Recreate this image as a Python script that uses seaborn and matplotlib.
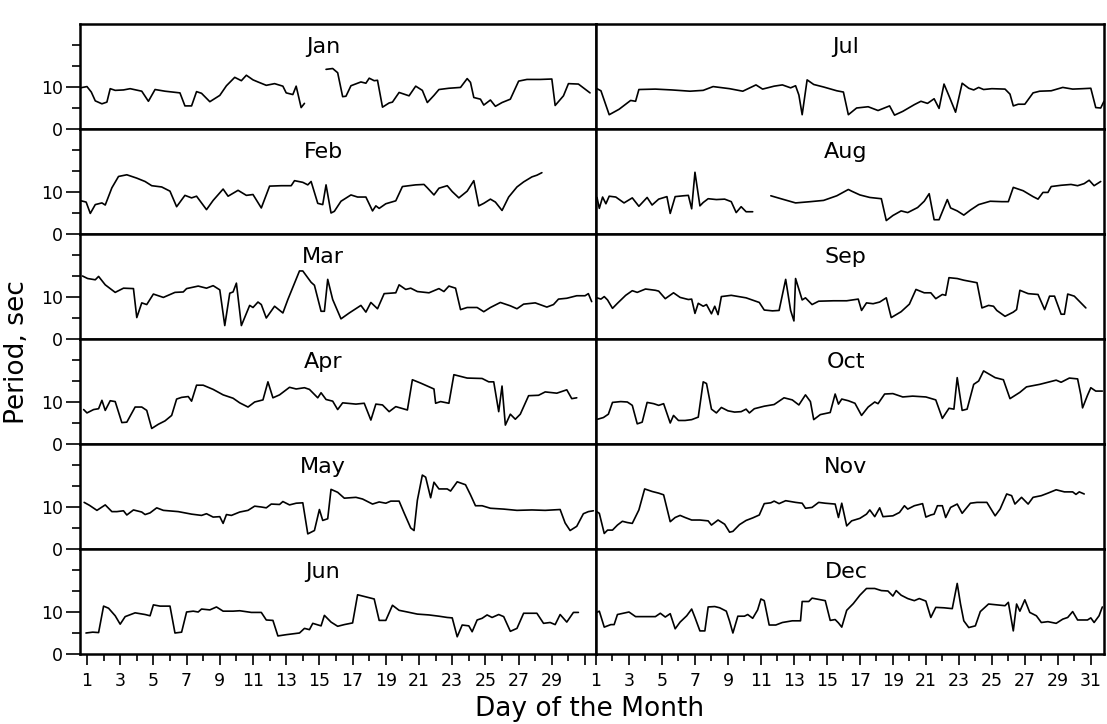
import numpy as np
import pandas as pd
import matplotlib
matplotlib.use("Agg")
import matplotlib.pyplot as plt
from matplotlib.ticker import FixedLocator, NullFormatter
import seaborn as sns

# ---------------- data: (day of month, period in seconds) ----------------
jan_a = [(0.6,9.8),(1.0,10.1),(1.26,8.8),(1.5,6.7),(1.9,6.0),(2.2,6.4),(2.4,9.6),(2.7,9.2),(3.2,9.3),(3.6,9.6),
         (4.3,9.0),(4.7,6.6),(5.1,9.4),(5.7,9.0),(6.6,8.6),(6.9,5.5),(7.3,5.5),(7.6,8.9),(7.9,8.5),(8.4,6.5),
         (9.0,8.0),(9.4,10.3),(9.9,12.3),(10.3,11.5),(10.6,12.8),(11.0,11.7),(11.3,11.2),(11.8,10.4),(12.3,10.8),
         (12.8,10.2),(13.0,8.6),(13.4,8.2),(13.6,10.2),(13.9,5.1),(14.1,6.1)]
jan_b = [(15.4,14.2),(15.8,14.4),(16.1,13.4),(16.4,7.7),(16.6,7.8),(16.9,10.3),(17.5,11.2),(17.8,10.9),(18.0,12.1),
         (18.3,11.5),(18.5,11.6),(18.8,5.2),(19.2,6.2),(19.4,6.4),(19.8,8.7),(20.4,7.9),(20.8,10.2),(21.2,9.2),
         (21.5,6.3),(21.9,8.0),(22.2,9.4),(22.8,9.7),(23.5,9.9),(23.9,12.0),(24.1,11.1),(24.3,7.5),(24.7,7.1),
         (24.9,5.7),(25.3,6.9),(25.6,5.4),(26.0,6.3),(26.5,7.1),(27.0,11.4),(27.5,11.8),(28.3,11.8),(29.0,11.9),
         (29.2,5.6),(29.7,7.9),(30.0,10.8),(30.6,10.7),(31.3,8.6)]
feb = [(0.65,7.9),(0.95,7.6),(1.2,4.9),(1.5,7.0),(1.9,7.4),(2.1,6.9),(2.5,11.0),(2.9,13.7),(3.4,14.1),(3.7,13.7),
       (4.0,13.3),(4.5,12.5),(4.9,11.5),(5.5,11.2),(6.0,10.2),(6.4,6.5),(6.9,9.2),(7.3,8.6),(7.6,9.0),(8.2,5.8),
       (8.6,8.0),(9.2,10.7),(9.5,9.0),(10.1,10.4),(10.6,9.2),(11.0,9.4),(11.5,6.2),(12.0,11.4),(12.7,11.5),
       (13.3,11.5),(13.5,12.7),(14.0,12.3),(14.3,11.7),(14.5,12.5),(14.9,7.3),(15.2,7.0),(15.4,11.7),(15.7,5.0),
       (15.9,5.4),(16.3,7.8),(16.9,9.3),(17.3,8.8),(17.8,8.8),(18.2,5.5),(18.4,6.7),(18.6,6.1),(19.0,7.2),
       (19.6,7.9),(20.0,11.3),(20.8,11.7),(21.3,11.8),(21.5,11.0),(21.9,9.3),(22.2,10.9),(22.7,11.5),(23.0,10.1),
       (23.4,8.6),(23.9,10.2),(24.3,12.7),(24.6,6.7),(24.9,7.3),(25.3,8.3),(25.6,7.6),(26.0,5.6),(26.4,8.8),
       (26.9,11.2),(27.3,12.4),(27.8,13.6),(28.1,14.0),(28.4,14.6)]
mar = [(0.73,15.0),(1.04,14.4),(1.5,14.1),(1.7,14.9),(2.1,12.9),(2.7,11.1),(3.2,12.1),(3.8,12.0),(4.0,5.1),(4.3,8.6),
       (4.6,8.2),(5.0,10.7),(5.6,9.9),(6.3,11.1),(6.8,11.2),(7.0,12.0),(7.7,12.6),(8.2,12.1),(8.6,12.7),(9.0,11.7),
       (9.3,3.2),(9.6,10.9),(9.8,11.2),(10.0,13.3),(10.3,3.2),(10.8,8.0),(11.0,7.5),(11.3,8.8),(11.5,8.2),(11.8,5.0),
       (12.3,7.8),(12.8,6.2),(13.1,9.4),(13.8,16.2),(14.0,16.2),(14.5,13.5),(14.7,12.8),(15.1,6.6),(15.3,6.6),
       (15.5,14.2),(15.8,9.4),(16.3,4.8),(16.8,6.2),(17.5,8.0),(17.8,6.4),(18.1,8.7),(18.5,7.2),(18.9,10.8),
       (19.6,11.0),(19.8,12.9),(20.2,11.8),(20.5,12.1),(20.9,11.3),(21.6,11.0),(22.2,12.0),(22.5,11.3),(22.8,12.6),
       (23.2,12.1),(23.5,7.0),(23.9,7.5),(24.5,7.5),(24.9,6.5),(25.3,7.5),(25.9,8.7),(26.5,7.9),(26.9,7.2),
       (27.3,8.3),(28.0,8.6),(28.7,7.6),(29.1,8.2),(29.4,9.5),(29.9,9.7),(30.5,10.3),(31.0,10.3),(31.2,10.8),
       (31.4,8.9)]
apr = [(0.8,8.2),(1.0,7.4),(1.4,8.2),(1.7,8.4),(1.9,10.4),(2.1,8.0),(2.4,10.3),(2.7,10.1),(3.1,5.1),(3.4,5.2),
       (3.9,8.8),(4.3,8.8),(4.6,8.0),(4.9,3.7),(5.3,4.7),(5.7,5.5),(6.1,6.8),(6.4,10.7),(6.7,11.1),(7.1,11.3),
       (7.3,10.2),(7.6,14.0),(8.0,14.0),(8.6,13.0),(9.2,11.7),(9.8,10.9),(10.2,9.8),(10.7,8.8),(11.1,10.0),
       (11.6,10.5),(11.9,14.8),(12.2,11.0),(12.6,11.7),(13.2,13.5),(13.6,13.1),(14.1,13.4),(14.4,13.0),(14.9,11.0),
       (15.1,12.2),(15.4,10.6),(15.8,10.2),(16.1,8.2),(16.4,9.8),(17.2,9.5),(17.7,9.7),(18.1,5.7),(18.4,9.5),
       (18.8,9.3),(19.2,7.7),(19.6,8.9),(20.3,8.1),(20.6,15.3),(21.1,14.5),(21.9,13.1),(22.0,9.7),(22.3,10.1),
       (22.8,9.7),(23.1,16.5),(23.5,16.1),(23.9,15.7),(24.8,15.6),(25.2,14.8),(25.5,14.8),(25.8,7.7),(26.0,13.8),
       (26.2,4.5),(26.5,7.1),(26.8,5.9),(27.1,7.1),(27.6,11.5),(28.2,11.6),(28.6,12.4),(29.3,12.1),(29.9,12.9),
       (30.2,10.8),(30.5,11.0)]
may = [(0.83,11.1),(1.15,10.4),(1.6,9.2),(2.1,10.5),(2.5,8.9),(2.8,8.9),(3.2,9.1),(3.4,8.1),(3.8,9.3),(4.3,8.8),
       (4.5,8.2),(4.8,8.6),(5.2,9.8),(5.6,9.2),(6.5,8.9),(7.3,8.3),(7.9,8.0),(8.2,8.4),(8.6,7.6),(9.0,7.7),
       (9.2,6.1),(9.4,8.2),(9.7,8.0),(10.2,8.8),(10.7,9.2),(11.1,10.2),(11.5,10.0),(11.8,9.8),(12.1,10.7),
       (12.6,10.6),(12.8,11.3),(13.2,10.5),(13.6,10.9),(14.0,11.0),(14.3,3.6),(14.7,4.4),(15.0,9.4),(15.2,6.8),
       (15.5,7.2),(15.7,14.2),(16.1,13.5),(16.5,12.1),(17.2,12.3),(17.6,11.9),(18.2,10.7),(18.6,11.2),(19.0,10.9),
       (19.3,11.4),(19.8,11.4),(20.1,8.6),(20.5,5.0),(20.7,4.4),(20.9,11.6),(21.2,17.6),(21.4,17.1),(21.7,12.2),
       (21.9,15.9),(22.2,14.3),(22.7,14.3),(22.9,13.8),(23.3,16.0),(23.8,15.3),(24.1,12.9),(24.4,10.3),(24.8,10.3),
       (25.3,9.7),(26.1,9.5),(26.9,9.2),(27.8,9.3),(28.6,9.2),(29.5,9.4),(29.8,6.2),(30.1,4.4),(30.5,5.4),
       (30.9,8.4),(31.2,8.9),(31.5,9.1)]
jun = [(0.94,5.0),(1.35,5.2),(1.7,5.1),(2.0,11.4),(2.3,10.9),(2.7,9.1),(3.0,7.1),(3.3,8.9),(3.9,9.8),(4.5,9.4),
       (4.8,9.1),(5.0,11.7),(5.4,11.4),(6.0,11.4),(6.3,5.0),(6.7,5.2),(7.0,10.0),(7.4,10.2),(7.7,10.0),(7.9,10.7),
       (8.4,10.5),(8.8,11.2),(9.2,10.2),(9.8,10.2),(10.2,10.3),(10.9,9.9),(11.5,9.9),(11.8,8.1),(12.2,8.0),
       (12.5,4.3),(13.0,4.6),(13.8,5.0),(14.1,6.1),(14.4,5.8),(14.6,7.3),(15.1,6.7),(15.3,9.2),(15.7,7.6),
       (16.1,6.6),(16.5,7.0),(17.0,7.4),(17.3,14.1),(17.8,13.6),(18.3,13.1),(18.6,8.0),(19.0,8.0),(19.4,11.6),
       (19.8,10.4),(20.3,10.0),(20.9,9.5),(21.6,9.3),(22.2,9.0),(22.7,8.7),(23.0,8.6),(23.3,4.1),(23.6,6.9),
       (24.0,6.7),(24.2,5.3),(24.5,8.1),(24.8,8.5),(25.1,9.3),(25.4,8.7),(25.8,9.4),(26.1,8.9),(26.5,5.4),
       (26.9,6.1),(27.3,9.7),(28.1,9.7),(28.5,7.3),(28.9,7.5),(29.2,7.0),(29.5,9.4),(29.9,7.6),(30.3,9.9),(30.6,9.9)]
jul = [(1.06,9.6),(1.3,9.1),(1.8,3.4),(2.4,4.7),(3.1,6.8),(3.4,6.6),(3.6,9.4),(4.6,9.5),(5.6,9.3),(6.7,9.0),
       (7.5,9.2),(8.1,10.1),(9.1,9.6),(9.9,9.0),(10.7,10.5),(11.1,9.5),(11.8,10.2),(12.3,10.5),(12.8,9.8),
       (13.1,10.3),(13.3,8.1),(13.5,3.4),(13.8,11.7),(14.2,10.6),(14.8,10.0),(15.6,9.1),(16.0,8.8),(16.3,3.4),
       (16.8,5.0),(17.5,5.3),(18.1,4.4),(18.8,5.5),(19.1,3.3),(19.6,4.2),(20.3,5.8),(20.7,6.6),(21.1,6.1),
       (21.5,7.2),(21.8,4.9),(22.1,10.7),(22.4,7.9),(22.8,4.0),(23.2,10.9),(23.6,9.7),(23.9,9.3),(24.2,9.9),
       (24.5,9.4),(25.0,9.6),(25.8,9.5),(26.1,8.3),(26.3,5.5),(26.6,5.9),(27.0,5.9),(27.5,8.6),(27.9,9.0),
       (28.6,9.1),(29.3,9.9),(29.9,9.5),(30.5,9.6),(31.0,9.7),(31.3,5.1),(31.6,5.0),(31.8,6.6)]
aug_a = [(1.06,8.7),(1.2,6.1),(1.4,8.8),(1.6,7.2),(1.8,9.0),(2.2,8.8),(2.7,7.4),(3.2,8.6),(3.6,6.6),(4.1,8.7),
         (4.4,6.9),(4.8,8.3),(5.3,8.9),(5.5,4.9),(5.8,8.9),(6.3,9.1),(6.6,9.2),(6.8,6.0),(7.0,14.7),(7.3,6.7),
         (7.5,7.5),(7.8,8.4),(8.3,8.2),(8.8,8.3),(9.2,7.7),(9.5,5.1),(9.8,6.5),(10.1,5.3),(10.5,5.3)]
aug_b = [(11.6,9.1),(12.3,8.3),(13.1,7.4),(14.0,7.7),(14.8,8.0),(15.6,9.1),(16.3,10.6),(16.5,10.2),(17.0,9.3),
         (17.6,8.7),(18.3,8.4),(18.6,3.2),(19.0,4.4),(19.5,5.5),(19.9,5.1),(20.5,6.3),(20.9,7.8),(21.2,9.6),
         (21.5,3.4),(21.8,3.4),(22.3,8.2),(22.5,6.2),(22.9,5.5),(23.3,4.5),(23.7,5.7),(24.2,7.0),(24.9,7.8),
         (25.6,7.7),(26.0,7.7),(26.3,11.1),(26.9,10.3),(27.5,8.9),(27.8,8.3),(28.1,9.9),(28.4,9.9),(28.6,11.3),
         (29.2,11.6),(29.8,11.8),(30.2,11.5),(30.6,12.0),(30.9,12.8),(31.2,11.5),(31.6,12.5)]
sep = [(1.06,9.8),(1.3,9.5),(1.5,10.1),(1.7,9.3),(2.0,7.3),(2.3,8.5),(2.8,10.4),(3.2,11.5),(3.5,11.1),(4.0,11.9),
       (4.6,11.6),(4.8,11.4),(5.2,9.6),(5.7,11.0),(6.1,9.9),(6.6,9.4),(6.8,9.5),(7.0,6.1),(7.2,8.5),(7.5,7.8),
       (7.7,8.2),(8.0,6.0),(8.2,7.8),(8.4,5.8),(8.6,10.1),(9.2,10.4),(10.1,9.8),(10.9,8.7),(11.2,6.9),(11.7,6.7),
       (12.1,6.8),(12.5,14.2),(12.8,6.8),(13.0,4.3),(13.1,14.4),(13.5,9.3),(13.7,9.8),(14.1,8.2),(14.5,9.0),
       (15.4,9.1),(16.2,9.1),(16.9,9.5),(17.1,6.8),(17.4,8.6),(17.8,8.4),(18.2,8.8),(18.6,9.8),(18.9,5.1),
       (19.5,6.5),(20.0,8.3),(20.4,11.8),(20.9,11.0),(21.3,11.0),(21.6,9.6),(22.0,10.6),(22.2,10.4),(22.4,14.6),
       (22.9,14.4),(23.3,14.0),(24.1,13.4),(24.4,7.4),(24.8,8.0),(25.1,7.8),(25.3,6.8),(25.8,5.4),(26.3,6.4),
       (26.5,7.0),(26.7,11.6),(27.2,10.8),(27.8,10.6),(28.2,7.0),(28.5,10.2),(28.8,10.2),(29.2,5.9),(29.4,5.9),
       (29.6,10.7),(30.0,10.2),(30.3,9.0),(30.7,7.4)]
oct_ = [(1.1,5.9),(1.45,6.3),(1.75,7.1),(2.0,9.9),(2.5,10.1),(2.9,10.0),(3.2,9.2),(3.5,4.8),(3.8,5.2),(4.1,9.9),
        (4.5,9.6),(4.8,9.2),(5.1,9.6),(5.5,5.0),(5.7,6.8),(6.0,5.6),(6.4,5.6),(6.8,5.8),(7.2,6.4),(7.5,14.8),
        (7.7,14.4),(8.0,8.3),(8.3,7.4),(8.6,8.7),(9.0,7.9),(9.4,7.6),(9.8,7.7),(10.1,8.3),(10.3,7.4),(10.6,8.4),
        (11.2,9.0),(11.8,9.4),(12.4,11.0),(12.9,10.5),(13.3,9.3),(13.7,11.7),(14.0,10.1),(14.2,5.8),(14.6,7.0),
        (15.2,7.5),(15.5,11.9),(15.7,9.5),(15.9,10.7),(16.3,10.3),(16.7,9.7),(17.1,6.8),(17.5,8.8),(17.9,10.0),
        (18.1,9.6),(18.5,11.9),(19.0,12.0),(19.6,11.2),(20.2,11.4),(21.0,11.2),(21.6,10.5),(22.0,6.1),(22.4,8.5),
        (22.7,8.3),(22.9,15.8),(23.2,8.0),(23.5,8.3),(23.9,14.2),(24.2,15.0),(24.5,17.4),(25.2,15.8),(25.7,15.3),
        (26.1,10.8),(26.7,12.3),(27.1,13.6),(27.9,14.2),(28.5,14.8),(28.9,15.2),(29.2,14.7),(29.7,15.7),
        (30.2,15.5),(30.4,11.6),(30.5,8.6),(30.8,11.6),(31.0,13.4),(31.3,12.6),(31.7,12.6)]
nov = [(1.0,9.0),(1.2,8.5),(1.5,3.7),(1.7,4.5),(2.0,4.5),(2.3,5.7),(2.6,6.6),(2.9,6.3),(3.2,6.1),(3.6,9.3),
       (3.95,14.3),(4.4,13.7),(4.8,13.3),(5.1,12.9),(5.5,6.5),(5.8,7.5),(6.1,8.0),(6.4,7.5),(6.8,6.9),(7.3,6.9),
       (7.8,6.7),(8.0,5.7),(8.4,6.9),(8.8,5.9),(9.1,4.0),(9.3,4.2),(9.7,5.8),(10.1,6.8),(10.5,7.4),(10.9,8.1),
       (11.2,10.8),(11.6,11.0),(11.8,11.4),(12.1,10.8),(12.5,11.5),(13.1,11.1),(13.5,10.9),(13.7,9.7),(14.1,9.9),
       (14.5,11.1),(14.9,10.9),(15.5,10.7),(15.7,7.5),(15.9,10.9),(16.2,5.5),(16.5,6.7),(17.0,7.3),(17.4,8.3),
       (17.6,9.3),(17.9,7.7),(18.2,9.8),(18.4,7.7),(19.0,7.9),(19.4,8.7),(19.7,10.3),(19.9,9.5),(20.3,10.3),
       (20.8,10.8),(21.0,7.6),(21.3,8.1),(21.5,8.3),(21.7,10.3),(22.0,10.3),(22.2,7.5),(22.5,9.9),(22.9,10.7),
       (23.2,8.5),(23.7,10.9),(24.1,11.1),(24.7,11.1),(25.2,7.9),(25.5,9.5),(25.9,13.1),(26.2,12.7),(26.4,10.7),
       (26.8,12.3),(27.2,10.7),(27.5,12.3),(28.0,12.7),(28.4,13.3),(28.9,14.1),(29.4,13.6),(29.9,13.6),
       (30.1,13.0),(30.3,13.6),(30.6,13.1)]
dec = [(1.0,9.8),(1.2,10.2),(1.5,6.4),(1.9,7.0),(2.1,7.0),(2.3,9.4),(3.0,10.0),(3.4,8.9),(4.1,8.9),(4.6,8.9),
       (4.9,9.7),(5.2,8.8),(5.5,9.6),(5.8,6.0),(6.1,7.6),(6.5,9.1),(6.8,10.7),(7.0,8.7),(7.3,5.5),(7.6,5.5),
       (7.8,11.2),(8.2,11.3),(8.5,11.0),(8.9,10.2),(9.1,7.8),(9.3,5.0),(9.6,9.0),(10.0,9.0),(10.2,9.4),(10.5,8.5),
       (10.8,10.5),(11.0,13.1),(11.2,12.7),(11.5,6.9),(11.9,6.9),(12.3,7.5),(12.9,7.9),(13.4,7.9),(13.5,12.5),
       (13.9,12.5),(14.1,13.3),(14.5,13.0),(14.9,12.7),(15.2,8.0),(15.5,8.2),(15.7,7.4),(15.9,6.4),(16.2,10.4),
       (16.6,12.0),(17.0,14.0),(17.4,15.6),(17.9,15.6),(18.3,15.1),(18.7,15.0),(19.0,13.8),(19.2,15.1),(19.5,14.0),
       (19.9,13.2),(20.3,12.7),(20.6,13.2),(21.0,12.6),(21.3,8.7),(21.6,11.1),(22.1,11.0),(22.6,10.8),(22.9,16.8),
       (23.1,11.9),(23.3,7.9),(23.6,6.3),(24.0,6.7),(24.3,10.1),(24.8,11.9),(25.3,11.7),(25.8,11.5),(26.0,12.3),
       (26.3,5.5),(26.5,11.9),(26.7,10.2),(27.0,12.9),(27.3,9.9),(27.7,9.1),(28.0,7.5),(28.4,7.7),(28.9,7.3),
       (29.3,8.3),(29.6,8.7),(29.9,10.1),(30.2,8.1),(30.8,8.1),(31.0,8.6),(31.2,7.5),(31.5,9.1),(31.7,11.2)]

month_names = ["Jan", "Feb", "Mar", "Apr", "May", "Jun",
               "Jul", "Aug", "Sep", "Oct", "Nov", "Dec"]
month_segments = [[jan_a, jan_b], [feb], [mar], [apr], [may], [jun],
                  [jul], [aug_a, aug_b], [sep], [oct_], [nov], [dec]]
y_major = [0, 10]
y_major_labels = ["0", "10"]
y_minor = [5, 15, 20]

# ---------------- long table ----------------
rows = []
for name, segs in zip(month_names, month_segments):
    for k, seg in enumerate(segs):
        for d, v in seg:
            rows.append({"month": name, "seg": k, "day": d, "period": v})
df = pd.DataFrame(rows)

# ---------------- figure ----------------
sns.set_theme(style="white")
plt.rcParams["font.family"] = ["DejaVu Sans"]

W, H = 1107, 724
fig = plt.figure(figsize=(W / 100, H / 100), dpi=100)
fig.patch.set_facecolor("white")

col_x = [(80, 596), (596, 1104)]
top_px, bot_px = 24, 654
row_h = (bot_px - top_px) / 6
col_xlim = [(0.58, 31.66), (1.0, 31.8)]
title_x = [0.471, 0.492]

for idx, name in enumerate(month_names):
    col = idx // 6
    row = idx % 6
    x0, x1 = col_x[col]
    y_top = top_px + row * row_h
    ax = fig.add_axes([x0 / W, 1 - (y_top + row_h) / H, (x1 - x0) / W, row_h / H])
    sub = df[df["month"] == name]
    sns.lineplot(data=sub, x="day", y="period", units="seg", estimator=None,
                 color="black", linewidth=1.2, sort=False, ax=ax, legend=False)
    ax.set_xlim(*col_xlim[col])
    ax.set_ylim(0, 25)
    ax.set_xlabel("")
    ax.set_ylabel("")
    ax.set_facecolor("white")
    for sp in ax.spines.values():
        sp.set_visible(True)
        sp.set_color("black")
        sp.set_linewidth(1.8)
    ax.text(title_x[col], 0.785, name, transform=ax.transAxes, ha="center", va="center",
            fontsize=16, color="black")
    # y ticks (left column only)
    if col == 0:
        ax.yaxis.set_major_locator(FixedLocator(y_major))
        ax.yaxis.set_minor_locator(FixedLocator(y_minor))
        ax.set_yticklabels(y_major_labels)
        ax.yaxis.set_minor_formatter(NullFormatter())
        ax.tick_params(axis="y", which="major", direction="out", length=10, width=1.2,
                       labelsize=12.5, pad=2, left=True, colors="black")
        ax.tick_params(axis="y", which="minor", direction="out", length=6, width=1.2,
                       left=True, colors="black")
    else:
        ax.set_yticks([])
    # x ticks (bottom row only)
    if row == 5:
        odd = list(range(1, 32, 2))
        even = list(range(2, 32, 2))
        ax.xaxis.set_major_locator(FixedLocator(odd))
        ax.xaxis.set_minor_locator(FixedLocator(even))
        labels = [str(d) if (col == 1 or d <= 29) else "" for d in odd]
        ax.set_xticklabels(labels)
        ax.xaxis.set_minor_formatter(NullFormatter())
        ax.tick_params(axis="x", which="major", direction="out", length=8, width=1.2,
                       labelsize=12.5, pad=5, bottom=True, colors="black")
        ax.tick_params(axis="x", which="minor", direction="out", length=5, width=1.2,
                       bottom=True, colors="black")
    else:
        ax.set_xticks([])

fig.text(17 / W, 1 - 352 / H, "Period, sec", rotation=90, ha="center", va="center",
         fontsize=19, color="black")
fig.text(590 / W, 1 - 716 / H, "Day of the Month", ha="center", va="baseline",
         fontsize=19, color="black")

fig.savefig("out.png", dpi=100, facecolor="white")
